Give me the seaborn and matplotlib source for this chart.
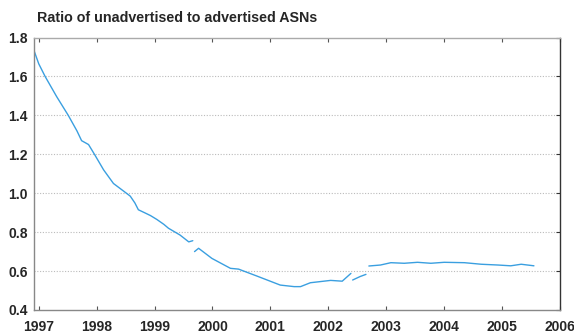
import numpy as np
import pandas as pd
import matplotlib
matplotlib.use("Agg")
import matplotlib.pyplot as plt
import seaborn as sns

# Data (year, ratio), split into segments
seg1_years = [1996.91, 1997.00, 1997.11, 1997.31, 1997.51, 1997.66, 1997.74, 1997.86, 1997.97,
              1998.12, 1998.29, 1998.46, 1998.58, 1998.66, 1998.72, 1998.84, 1998.93, 1999.04,
              1999.16, 1999.24, 1999.44, 1999.59, 1999.66]
seg1_ratio = [1.740, 1.665, 1.600, 1.496, 1.400, 1.320, 1.270, 1.250, 1.196,
              1.120, 1.050, 1.012, 0.985, 0.950, 0.915, 0.898, 0.885, 0.865,
              0.840, 0.820, 0.785, 0.750, 0.756]
seg2_years = [1999.69, 1999.76, 1999.99, 2000.31, 2000.45, 2000.77, 2001.17, 2001.41,
              2001.52, 2001.69, 2002.04, 2002.24, 2002.39]
seg2_ratio = [0.700, 0.717, 0.665, 0.614, 0.610, 0.574, 0.528, 0.520,
              0.520, 0.540, 0.552, 0.548, 0.588]
seg3_years = [2002.42, 2002.55, 2002.65]
seg3_ratio = [0.554, 0.572, 0.583]
seg4_years = [2002.70, 2002.90, 2003.08, 2003.31, 2003.54, 2003.77, 2004.00, 2004.35,
              2004.64, 2004.93, 2005.15, 2005.33, 2005.55]
seg4_ratio = [0.626, 0.631, 0.643, 0.640, 0.645, 0.640, 0.645, 0.643,
              0.635, 0.631, 0.627, 0.635, 0.627]

year_ticks = [1997, 1998, 1999, 2000, 2001, 2002, 2003, 2004, 2005, 2006]
y_ticks = [0.4, 0.6, 0.8, 1.0, 1.2, 1.4, 1.6, 1.8]
title = "Ratio of unadvertised to advertised ASNs"

frames = []
for i, (yy, rr) in enumerate([(seg1_years, seg1_ratio), (seg2_years, seg2_ratio),
                               (seg3_years, seg3_ratio), (seg4_years, seg4_ratio)]):
    frames.append(pd.DataFrame({"year": yy, "ratio": rr, "seg": i}))
df = pd.concat(frames, ignore_index=True)

sns.set_style("white")
plt.rcParams['font.family'] = ['Liberation Sans', 'DejaVu Sans']

fig = plt.figure(figsize=(5.74, 3.34), dpi=100)
ax = fig.add_axes([0.0584, 0.0719, 0.9172, 0.8158])

sns.lineplot(data=df, x="year", y="ratio", units="seg", estimator=None,
             color="#3a9fe0", linewidth=1.0, ax=ax, legend=False)

ax.set_xlim(1996.91, 2006.0)
ax.set_ylim(0.4, 1.8)
ax.set_xticks(year_ticks)
ax.set_xticklabels([str(y) for y in year_ticks], fontweight="bold", fontsize=10)
ax.set_yticks(y_ticks)
ax.set_yticklabels([f"{v:.1f}" for v in y_ticks], fontweight="bold", fontsize=10)
ax.set_xlabel("")
ax.set_ylabel("")

for v in y_ticks[1:-1]:
    ax.axhline(v, color="#bbbbbb", linestyle=(0, (1, 1.5)), linewidth=0.8, zorder=0)

ax.tick_params(axis="x", which="both", direction="in", length=3, width=0.8,
               color="#555555", top=True, bottom=True, pad=7)
ax.tick_params(axis="y", which="both", direction="in", length=3, width=0.8,
               color="#333333", left=False, right=True, pad=4)

ax.spines["top"].set_color("#aaaaaa")
ax.spines["bottom"].set_color("#888888")
ax.spines["left"].set_color("#888888")
ax.spines["right"].set_color("#333333")
for s in ax.spines.values():
    s.set_linewidth(1.0)

fig.text(0.0645, 0.945, title, fontsize=10.3, fontweight="bold", ha="left", va="center")

fig.savefig("out.png", dpi=100)
